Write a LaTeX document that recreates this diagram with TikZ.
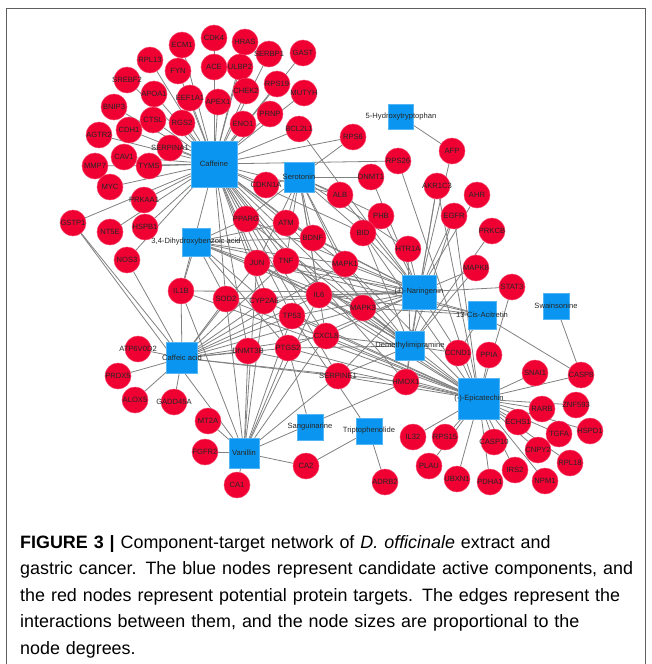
\documentclass[tikz,border=0pt]{standalone}
\usepackage{fontspec}
\setmainfont{Liberation Sans}
\definecolor{netred}{RGB}{240,0,50}
\definecolor{netblue}{RGB}{10,150,240}
\definecolor{netedge}{RGB}{128,128,128}
\definecolor{framegray}{RGB}{95,95,95}
\pgfdeclarelayer{edges}
\pgfsetlayers{edges,main}

\begin{document}
\begin{tikzpicture}[x=1pt,y=-1pt,
  target/.style={circle,fill=netred,draw=netred!75!white,line width=0.5pt,
    minimum size=26pt,inner sep=0pt,font=\fontsize{7.6}{8}\selectfont,text=black!85},
  comp/.style={rectangle,fill=netblue,draw=netblue!70!white,line width=0.5pt,
    minimum size=#1,inner sep=0pt,font=\fontsize{7.6}{8}\selectfont,text=black!85},
  edge/.style={draw=netedge,line width=0.8pt}]
  \useasboundingbox (0,0) rectangle (652,664);
  \draw[framegray,line width=1.5pt] (6.5,664) |- (645.5,8.5) -- (645.5,664);

  % protein targets
  \foreach \n/\x/\y/\l in {
    ecm1/182/45/ECM1, cdk4/214/38/CDK4, hras/245/42/HRAS, rpl13/150/60/RPL13,
    fyn/178/71/FYN, ace/214/67/ACE, ulbp2/240/67/ULBP2, serbp1/269/54/SERBP1,
    gast/303/53/GAST, srebf2/127/80/SREBF2, apoa1/154/94/APOA1, eef1a1/190/98/EEF1A1,
    apex1/218/102/APEX1, chek2/246/91/CHEK2, rps19/277/84/RPS19, mutyh/304/93/MUTYH,
    prnp/270/114/PRNP, eno1/243/124/ENO1, bcl2l1/299/129/BCL2L1, rps6/353/137/RPS6,
    bnip3/114/107/BNIP3, ctsl/153/120/CTSL, cdh1/129/130/CDH1, rgs2/182/123/RGS2,
    agtr2/99/135/AGTR2, serpina1/170/148/SERPINA1, cav1/124/157/CAV1, tyms/149/166/TYMS,
    mmp7/95/166/MMP7, myc/110/187/MYC, prkaa1/144/200/PRKAA1, gstp1/73/223/GSTP1,
    nt5e/110/232/NT5E, hspb1/145/227/HSPB1, nos3/127/260/NOS3, il1b/181/291/IL1B,
    sod2/226/299/SOD2, cdkn1a/266/185/CDKN1A, pparg/246/219/PPARG, atm/286/223/ATM,
    bdnf/313/238/BDNF, alb/340/195/ALB, dnmt1/371/177/DNMT1, rps26/398/161/RPS26,
    afp/452/151/AFP, akr1c3/437/186/AKR1C3, ahr/477/195/AHR, egfr/454/216/EGFR,
    phb/381/216/PHB, prkcb/492/231/PRKCB, htr1a/408/249/HTR1A, bid/363/233/BID,
    jun/257/263/JUN, tnf/286/261/TNF, mapk1/345/264/MAPK1, cyp2a6/264/301/CYP2A6,
    il6/319/295/IL6, mapk3/363/308/MAPK3, tp53/292/316/TP53, cxcl8/326/336/CXCL8,
    ptgs2/288/348/PTGS2, dnmt3b/248/351/DNMT3B, serpine1/338/376/SERPINE1,
    hmox1/406/382/HMOX1, mapk8/476/268/MAPK8, stat3/512/287/STAT3, ccnd1/458/353/CCND1,
    ppia/489/355/PPIA, snai1/535/373/SNAI1, casp8/581/375/CASP8, rarb/542/409/RARB,
    znf593/576/405/ZNF593, echs1/518/422/ECHS1, hspd1/590/431/HSPD1, tgfa/559/434/TGFA,
    il32/413/437/IL32, rps15/445/437/RPS15, casp10/494/442/CASP10, cnpy2/538/450/CNPY2,
    rpl18/570/463/RPL18, plau/429/466/PLAU, ubxn1/457/479/UBXN1, pdha1/490/482/PDHA1,
    irs2/515/470/IRS2, npm1/545/481/NPM1, atp6v0d2/138/349/ATP6V0D2, prdx5/118/376/PRDX5,
    alox5/135/400/ALOX5, gadd45a/174/402/GADD45A, mt2a/208/421/MT2A, fgfr2/205/452/FGFR2,
    ca1/237/485/CA1, ca2/306/466/CA2, adrb2/385/482/ADRB2}
    \node[target] (\n) at (\x,\y) {\makebox[0pt]{\l}};

  % active components
  \foreach \n/\x/\y/\s/\l in {
    caf/214/164/46/Caffeine, sero/299/177/30/Serotonin, htp/401/117/25/5-Hydroxytryptophan,
    dhba/196/242/28/{3,4-Dihydroxybenzoic acid}, nar/419/292/34/(±)-Naringenin,
    acit/482/315/28/13-Cis-Acitretin, swain/556/306/26/Swainsonine,
    dmi/410/346/29/Demethylimipramine, cafa/182/358/31/Caffeic acid,
    epi/479/399/41/(-)-Epicatechin, sang/310/427/26/Sanguinarine,
    trip/369/431/26/Triptophenolide, van/244/453/30/Vanillin}
    \node[comp=\s] (\n) at (\x,\y) {\makebox[0pt]{\l}};

  \begin{pgfonlayer}{edges}
    \foreach \t in {ecm1,cdk4,hras,rpl13,fyn,ace,ulbp2,serbp1,gast,srebf2,apoa1,eef1a1,
      apex1,chek2,rps19,mutyh,prnp,eno1,bcl2l1,rps6,bnip3,ctsl,cdh1,rgs2,agtr2,serpina1,
      cav1,tyms,mmp7,myc,prkaa1,hspb1,nt5e,nos3,gstp1,rps26,cdkn1a,pparg,atm,bdnf,jun,tnf,
      mapk1,il6,mapk3,tp53,ptgs2,cxcl8,il1b,sod2,cyp2a6,alb,bid,hmox1,serpine1,dnmt3b}
      \draw[edge] (caf) -- (\t);
    \foreach \t in {dnmt1,rps6,cdkn1a,alb,phb,bid,htr1a,bdnf,atm,mapk1,mapk3,il6,tnf,jun,
      pparg,cxcl8}
      \draw[edge] (sero) -- (\t);
    \draw[edge] (htp) -- (afp);
    \foreach \t in {il1b,bdnf,pparg,jun,tnf,atm,mapk1,il6,sod2,ptgs2,cyp2a6,mapk3}
      \draw[edge] (dhba) -- (\t);
    \foreach \t in {afp,akr1c3,dnmt1,htr1a,egfr,ahr,stat3,phb,bid,alb,mapk1,mapk3,il6,tnf,
      jun,atm,bdnf,cxcl8,ptgs2,ccnd1,hmox1,bcl2l1,mapk8,pparg,sod2,il1b,tp53,cyp2a6,serpine1}
      \draw[edge] (nar) -- (\t);
    \foreach \t in {ccnd1,casp8,mapk3,il6,tnf,jun}
      \draw[edge] (acit) -- (\t);
    \draw[edge] (swain) -- (casp8);
    \foreach \t in {htr1a,mapk8,prkcb,egfr,akr1c3,ccnd1,il6,mapk1,mapk3,tnf,jun,cxcl8,
      hmox1,ptgs2,serpine1,bid,pparg,atm}
      \draw[edge] (dmi) -- (\t);
    \foreach \t in {atp6v0d2,prdx5,alox5,gadd45a,gstp1,nos3,il1b,sod2,cyp2a6,dnmt3b,ptgs2,
      tp53,jun,tnf,il6,cxcl8,hmox1,serpine1,mapk3,mapk1}
      \draw[edge] (cafa) -- (\t);
    \foreach \t in {rarb,znf593,echs1,hspd1,tgfa,il32,rps15,casp10,cnpy2,rpl18,plau,ubxn1,
      pdha1,irs2,npm1,snai1,casp8,ppia,ccnd1,hmox1,rps26,mapk3,il6,tnf,jun,ptgs2,cxcl8,
      serpine1,mapk1,il1b,sod2,cyp2a6,tp53,bid,egfr,akr1c3,dnmt3b,stat3}
      \draw[edge] (epi) -- (\t);
    \draw[edge] (sang) -- (ptgs2);
    \foreach \t in {ca2,adrb2,tp53}
      \draw[edge] (trip) -- (\t);
    \foreach \t in {mt2a,fgfr2,ca1,ca2,il1b,sod2,cyp2a6,tp53,ptgs2,dnmt3b,cxcl8,il6,gstp1,
      hmox1,serpine1,jun}
      \draw[edge] (van) -- (\t);
  \end{pgfonlayer}

  % caption
  \node[anchor=north west,text width=640pt,align=left,inner sep=0pt,
    font=\fontsize{17.9}{26.6}\selectfont] (caption) at (20,535)
    {\textbf{FIGURE 3 |} Component-target network of \textit{D.~officinale} extract and\\
     gastric cancer. The blue nodes represent candidate active components, and\\
     the red nodes represent potential protein targets. The edges represent the\\
     interactions between them, and the node sizes are proportional to the\\
     node degrees.};
\end{tikzpicture}
\end{document}
